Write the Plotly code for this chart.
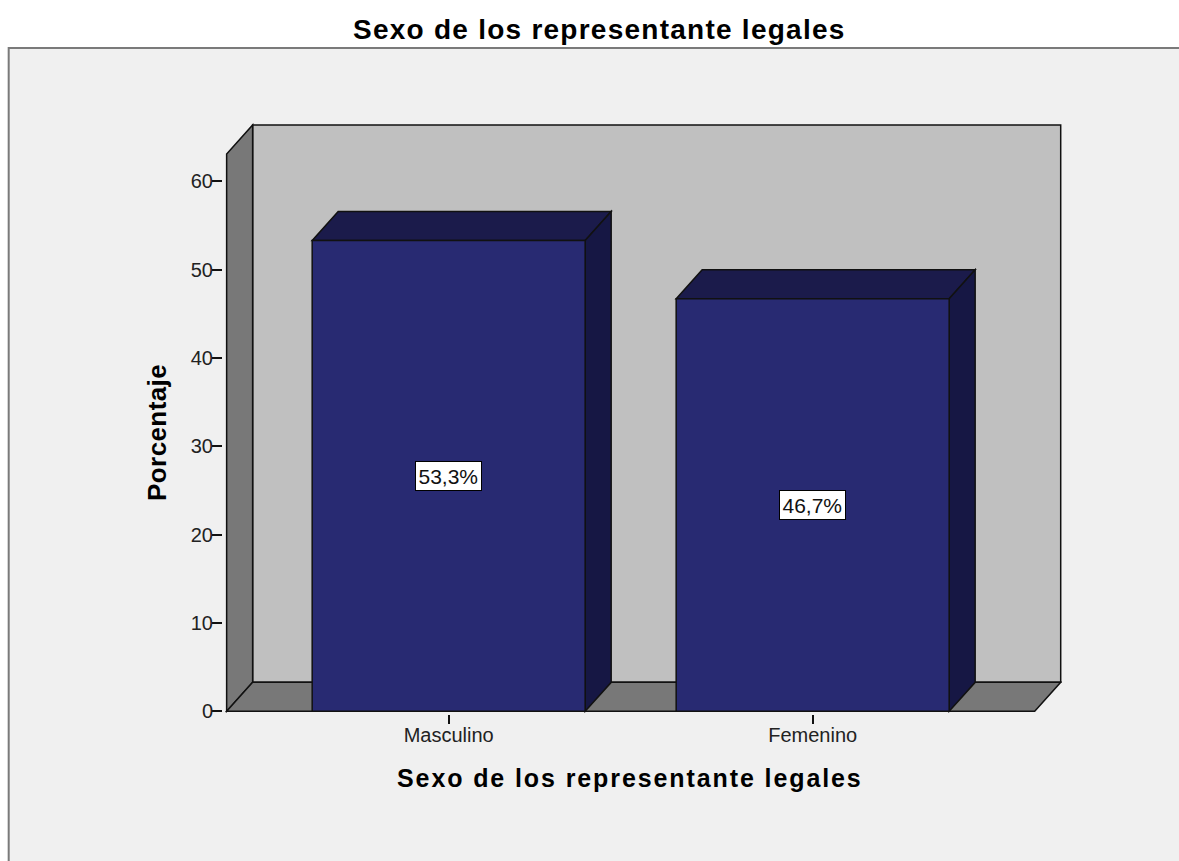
import plotly.graph_objects as go

TITLE = "Sexo de los representante legales"
Y_TITLE = "Porcentaje"
categories = ["Masculino", "Femenino"]
percentages = [53.3, 46.7]
labels = ["53,3%", "46,7%"]
y_ticks = [0, 10, 20, 30, 40, 50, 60]

WIDTH, HEIGHT = 1179, 861
FONT = "Liberation Sans"
FRONT = "#282a72"
TOP = "#1b1b4b"
SIDE = "#161744"
WALL = "#c0c0c0"
FLOOR = "#787878"
PANEL = "#f0f0f0"

# pixels per axis unit, and the oblique depth of the fake 3D box
X_SCALE = 364
Y_SCALE = 8.83
X_ORIGIN, Y_ORIGIN = 449, 711
DX = 26 / X_SCALE
DY = 29 / Y_SCALE
BAR_WIDTH = 0.75

X_LEFT, X_RIGHT = -0.61, 1.61
Y_TOP = 63.1
X_RANGE = [-0.62, 1.685]
Y_RANGE = [-0.3, 66.6]

plot_left = X_ORIGIN + X_RANGE[0] * X_SCALE
plot_right = X_ORIGIN + X_RANGE[1] * X_SCALE
plot_top = Y_ORIGIN - Y_RANGE[1] * Y_SCALE
plot_bottom = Y_ORIGIN - Y_RANGE[0] * Y_SCALE


def paper_x(px):
    return (px - plot_left) / (plot_right - plot_left)


def paper_y(py):
    return (plot_bottom - py) / (plot_bottom - plot_top)


def polygon(points, fill, width=1.5):
    path = "M " + " L ".join(f"{x} {y}" for x, y in points) + " Z"
    return dict(type="path", path=path, xref="x", yref="y", fillcolor=fill,
                line=dict(color="#111111", width=width), layer="below")


def spaced_bold(text, spacing):
    return f'<b><span style="letter-spacing:{spacing}px">{text}</span></b>'


shapes = [
    # panel behind the chart
    dict(type="rect", xref="paper", yref="paper", layer="below",
         x0=paper_x(9), x1=paper_x(WIDTH + 10), y0=paper_y(HEIGHT + 10), y1=paper_y(48),
         fillcolor=PANEL, line=dict(color="#7a7a7a", width=2)),
    # back wall, left wall, floor
    polygon([(X_LEFT + DX, DY), (X_RIGHT + DX, DY), (X_RIGHT + DX, Y_TOP + DY), (X_LEFT + DX, Y_TOP + DY)], WALL),
    polygon([(X_LEFT, 0), (X_LEFT + DX, DY), (X_LEFT + DX, Y_TOP + DY), (X_LEFT, Y_TOP)], FLOOR),
    polygon([(X_LEFT, 0), (X_RIGHT, 0), (X_RIGHT + DX, DY), (X_LEFT + DX, DY)], FLOOR),
]

for i, value in enumerate(percentages):
    x0 = i - BAR_WIDTH / 2
    x1 = i + BAR_WIDTH / 2
    shapes.append(polygon([(x0, value), (x1, value), (x1 + DX, value + DY), (x0 + DX, value + DY)], TOP))
    shapes.append(polygon([(x1, 0), (x1 + DX, DY), (x1 + DX, value + DY), (x1, value)], SIDE))

fig = go.Figure(
    go.Bar(
        x=list(range(len(categories))),
        y=percentages,
        width=BAR_WIDTH,
        marker=dict(color=FRONT, line=dict(color="#111111", width=1.5)),
        hoverinfo="skip",
    )
)

annotations = [
    dict(x=i, y=value / 2, xref="x", yref="y", text=label, showarrow=False,
         font=dict(family=FONT, size=21, color="#111111"), bgcolor="white",
         bordercolor="black", borderwidth=1, borderpad=2.5)
    for i, (value, label) in enumerate(zip(percentages, labels))
]
annotations += [
    dict(x=paper_x(600), y=paper_y(29), xref="paper", yref="paper", text=spaced_bold(TITLE, 1.25),
         xanchor="center", yanchor="middle", showarrow=False, font=dict(family=FONT, size=28, color="black")),
    dict(x=paper_x(630), y=paper_y(778), xref="paper", yref="paper", text=spaced_bold(TITLE, 1.9),
         xanchor="center", yanchor="middle", showarrow=False, font=dict(family=FONT, size=25, color="black")),
    dict(x=paper_x(158), y=paper_y(432), xref="paper", yref="paper", text=spaced_bold(Y_TITLE, 0.4),
         xanchor="center", yanchor="middle", textangle=-90, showarrow=False,
         font=dict(family=FONT, size=26, color="black")),
]

fig.update_layout(
    width=WIDTH,
    height=HEIGHT,
    margin=dict(l=plot_left, r=WIDTH - plot_right, t=plot_top, b=HEIGHT - plot_bottom, autoexpand=False),
    paper_bgcolor="white",
    plot_bgcolor="rgba(0,0,0,0)",
    showlegend=False,
    shapes=shapes,
    annotations=annotations,
    font=dict(family=FONT, size=20, color="#222222"),
)
fig.update_xaxes(
    range=X_RANGE, tickvals=list(range(len(categories))), ticktext=categories,
    ticks="outside", ticklen=9, tickwidth=1.5, tickcolor="#111111", ticklabelstandoff=-6,
    showgrid=False, zeroline=False, showline=False,
)
fig.update_yaxes(
    range=Y_RANGE, tickvals=y_ticks,
    ticks="outside", ticklen=10, tickwidth=1.5, tickcolor="#111111", ticklabelstandoff=-5,
    showgrid=False, zeroline=False, showline=False,
)

fig.write_html(
    "out.html",
    config={"displayModeBar": False},
    post_script="document.body.style.margin='0';document.body.style.overflow='hidden';",
)
